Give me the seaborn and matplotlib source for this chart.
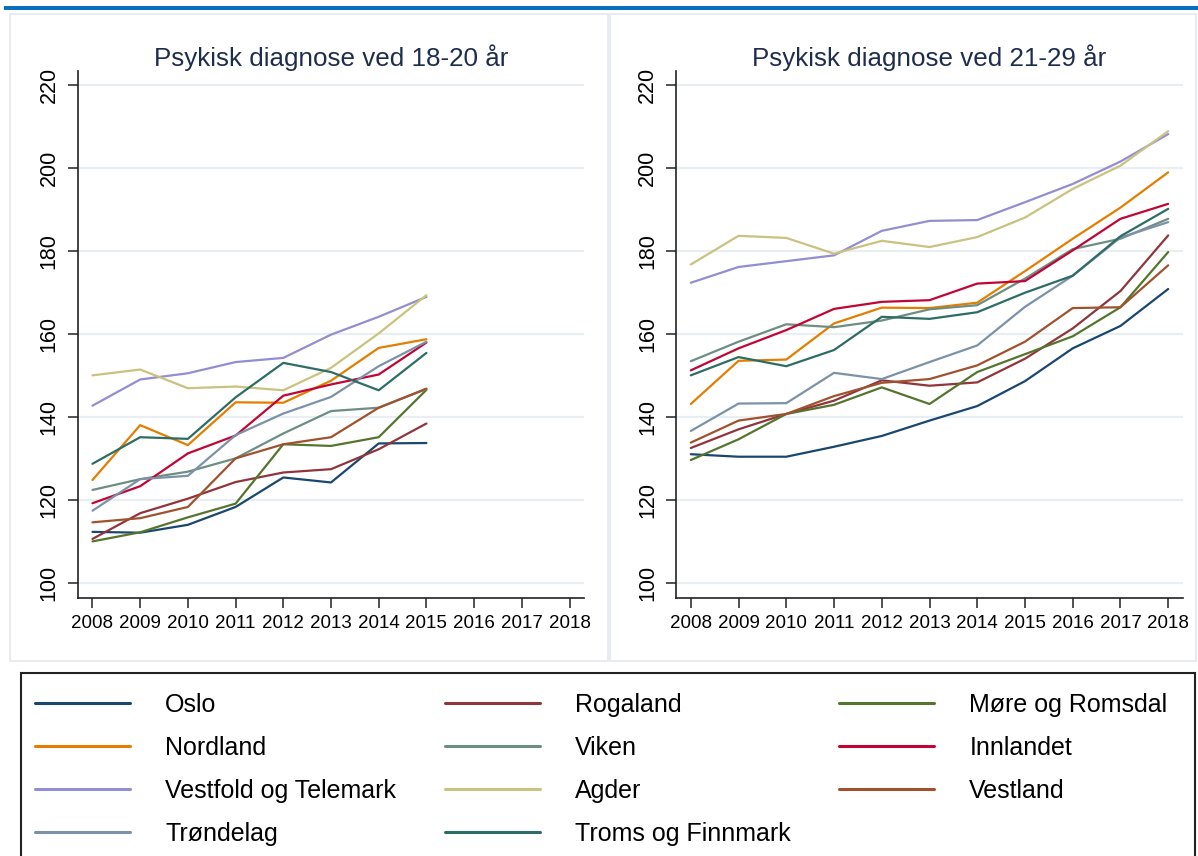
import pandas as pd
import matplotlib.pyplot as plt
import seaborn as sns
from matplotlib.patches import Rectangle

# years on the x axis
years_18_20 = [2008, 2009, 2010, 2011, 2012, 2013, 2014, 2015]
years_21_29 = [2008, 2009, 2010, 2011, 2012, 2013, 2014, 2015, 2016, 2017, 2018]
xticks = [2008, 2009, 2010, 2011, 2012, 2013, 2014, 2015, 2016, 2017, 2018]
yticks = [100, 120, 140, 160, 180, 200, 220]

regions = ['Oslo', 'Rogaland', 'Møre og Romsdal', 'Nordland', 'Viken', 'Innlandet',
           'Vestfold og Telemark', 'Agder', 'Vestland', 'Trøndelag', 'Troms og Finnmark']

# Stata s2color
colors = ['#1a476f', '#90353b', '#55752f', '#e37e00', '#6e8e84', '#c10534',
          '#938dd2', '#cac27e', '#a0522d', '#7b92a8', '#2d6d66']

# 18-20 år
oslo_a = [112.4, 112.2, 114.1, 118.4, 125.5, 124.3, 133.7, 133.8]
rogaland_a = [110.7, 116.9, 120.4, 124.4, 126.7, 127.5, 132.3, 138.5]
more_a = [110.1, 112.3, 115.9, 119.2, 133.5, 133.1, 135.2, 146.6]
nordland_a = [124.9, 138.1, 133.3, 143.6, 143.5, 148.8, 156.7, 158.8]
viken_a = [122.5, 125.1, 126.9, 130.1, 136.1, 141.5, 142.3, 146.8]
innlandet_a = [119.3, 123.4, 131.3, 135.6, 145.2, 147.9, 150.3, 158.0]
vestfold_a = [142.8, 149.1, 150.6, 153.3, 154.3, 159.9, 164.2, 169.0]
agder_a = [150.1, 151.5, 147.0, 147.4, 146.5, 151.9, 160.2, 169.4]
vestland_a = [114.7, 115.7, 118.4, 130.1, 133.5, 135.2, 142.3, 146.9]
trondelag_a = [117.5, 125.1, 125.9, 135.7, 140.9, 144.9, 152.3, 158.2]
troms_a = [128.8, 135.2, 134.8, 144.8, 153.1, 150.9, 146.5, 155.5]

# 21-29 år
oslo_b = [131.1, 130.5, 130.5, 132.9, 135.5, 139.2, 142.7, 148.7, 156.6, 162.0, 170.9]
rogaland_b = [132.6, 137.1, 140.8, 144.0, 148.9, 147.6, 148.4, 154.1, 161.4, 170.4, 183.8]
more_b = [129.7, 134.7, 140.8, 143.0, 147.2, 143.2, 150.9, 155.2, 159.5, 166.5, 179.8]
nordland_b = [143.2, 153.6, 153.9, 162.6, 166.4, 166.3, 167.6, 175.2, 183.0, 190.5, 199.0]
viken_b = [153.5, 158.2, 162.4, 161.7, 163.3, 166.0, 167.0, 173.4, 180.5, 183.0, 187.8]
innlandet_b = [151.3, 156.6, 161.0, 166.1, 167.8, 168.2, 172.2, 172.8, 180.2, 187.8, 191.4]
vestfold_b = [172.4, 176.2, 177.6, 179.0, 184.9, 187.3, 187.5, 191.8, 196.2, 201.6, 208.2]
agder_b = [176.8, 183.7, 183.2, 179.4, 182.5, 181.0, 183.4, 188.1, 195.0, 200.6, 208.9]
vestland_b = [133.9, 139.2, 140.8, 145.1, 148.3, 149.2, 152.5, 158.2, 166.3, 166.5, 176.6]
trondelag_b = [136.7, 143.3, 143.4, 150.7, 149.2, 153.3, 157.3, 166.6, 174.1, 183.3, 187.0]
troms_b = [150.1, 154.5, 152.3, 156.2, 164.2, 163.7, 165.3, 170.0, 174.1, 183.6, 190.2]

series_a = [oslo_a, rogaland_a, more_a, nordland_a, viken_a, innlandet_a,
            vestfold_a, agder_a, vestland_a, trondelag_a, troms_a]
series_b = [oslo_b, rogaland_b, more_b, nordland_b, viken_b, innlandet_b,
            vestfold_b, agder_b, vestland_b, trondelag_b, troms_b]


def to_long(years, series):
    rows = []
    for name, vals in zip(regions, series):
        for yr, v in zip(years, vals):
            rows.append({'year': yr, 'value': v, 'region': name})
    return pd.DataFrame(rows)


df_a = to_long(years_18_20, series_a)
df_b = to_long(years_21_29, series_b)

sns.set_style("white")
plt.rcParams['font.family'] = ['Liberation Sans', 'DejaVu Sans']

W, H = 1198, 856
fig = plt.figure(figsize=(W / 100, H / 100), dpi=100)

# blue bar on top and the two panel frames
fig.patches.append(Rectangle((4 / W, 1 - 9.5 / H), (W - 4) / W, 3.5 / H, transform=fig.transFigure,
                             facecolor='#0a6ebd', edgecolor='none'))
for x0, x1 in [(9.5, 608), (610, 1196)]:
    fig.patches.append(Rectangle((x0 / W, 1 - 660.5 / H), (x1 - x0) / W, (660.5 - 13.5) / H,
                                 transform=fig.transFigure, facecolor='none',
                                 edgecolor='#e6e9ef', lw=1.3))
# legend frame
fig.patches.append(Rectangle((21 / W, -0.01), (1195 - 21) / W, 1 - 673 / H + 0.01,
                             transform=fig.transFigure, facecolor='none',
                             edgecolor='#222222', lw=1.5))

ax1 = fig.add_axes([77.7 / W, 1 - 598.3 / H, (584.3 - 77.7) / W, (598.3 - 71) / H])
ax2 = fig.add_axes([676 / W, 1 - 598.3 / H, (1183 - 676) / W, (598.3 - 71) / H])

titles = ['Psykisk diagnose ved 18-20 år', 'Psykisk diagnose ved 21-29 år']
for ax, df, title in [(ax1, df_a, titles[0]), (ax2, df_b, titles[1])]:
    sns.lineplot(data=df, x='year', y='value', hue='region', hue_order=regions,
                 palette=colors, linewidth=1.6, ax=ax, legend=(ax is ax2))
    ax.set_xlim(2007.69, 2018.31)
    ax.set_ylim(96.4, 223.4)
    ax.set_xticks(xticks)
    ax.set_yticks(yticks)
    ax.set_xticklabels([str(x) for x in xticks])
    ax.set_yticklabels([str(y) for y in yticks], rotation=90, va='center')
    ax.set_xlabel('')
    ax.set_ylabel('')
    ax.yaxis.grid(True, color='#e9eef3', lw=1.6)
    ax.set_axisbelow(True)
    ax.tick_params(axis='both', length=7, width=1.1, color='#222222',
                   labelcolor='black', direction='out', left=True, bottom=True)
    ax.tick_params(axis='x', pad=5, labelsize=13.5)
    ax.tick_params(axis='y', pad=6, labelsize=15.5)
    for s in ['top', 'right']:
        ax.spines[s].set_visible(False)
    for s in ['left', 'bottom']:
        ax.spines[s].set_color('#222222')
        ax.spines[s].set_linewidth(1.2)
    ax.set_title(title, fontsize=18.7, color='#1f2d4d', pad=3.5)

handles, labels = ax2.get_legend_handles_labels()
ax2.get_legend().remove()
for h in handles:
    h.set_linewidth(2.2)

# matplotlib fills columns first, reorder so entries read row by row
order = [0, 3, 6, 9, 1, 4, 7, 10, 2, 5, 8]
fig.legend([handles[i] for i in order], [labels[i] for i in order],
           ncol=3, loc='upper left', bbox_to_anchor=(35 / W, 1 - 693 / H),
           frameon=False, fontsize=18, labelcolor='black', handlelength=3.8,
           handletextpad=1.4, columnspacing=1.95, labelspacing=0.76,
           borderpad=0, borderaxespad=0)

plt.savefig('out.png', dpi=100)
